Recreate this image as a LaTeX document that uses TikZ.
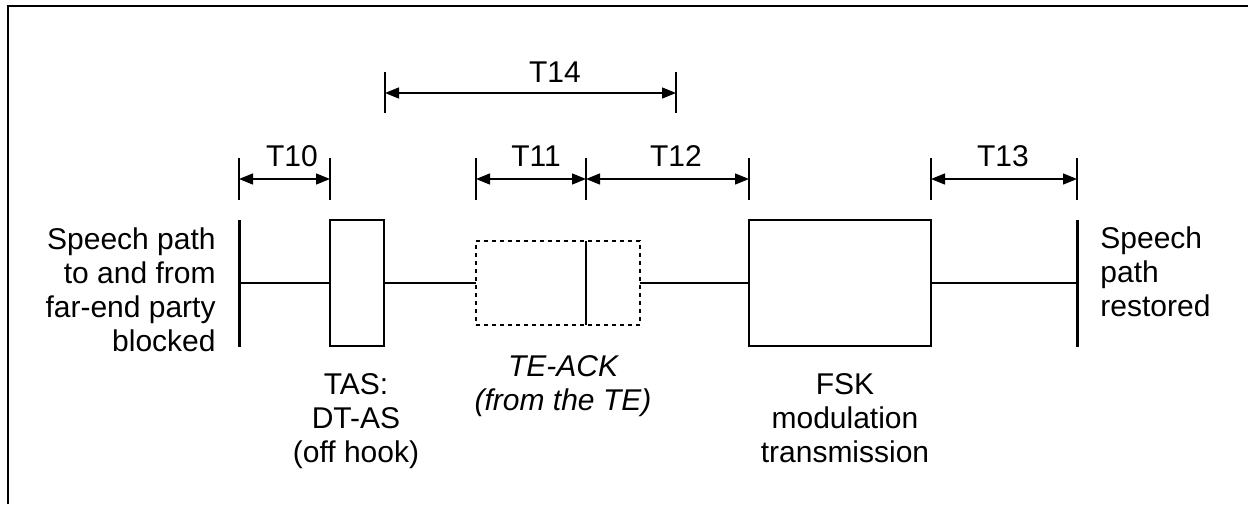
\documentclass[tikz,border=0pt]{standalone}
\usepackage{fontspec}
\setmainfont{Liberation Sans}
\usetikzlibrary{arrows.meta}
\def\sz{\fontsize{15}{17}\selectfont}
\begin{document}
\begin{tikzpicture}[x=0.5pt, y=-0.5pt, >={Triangle[length=7pt,width=5.5pt]}, font=\sz,
  box/.style={draw, line width=1pt, inner sep=0pt, outer sep=0pt},
  bar/.style={line width=1.5pt},
  tick/.style={line width=0.7pt},
  dim/.style={<->, line width=0.7pt},
  lbl/.style={inner sep=0pt, align=center}]
\useasboundingbox (0,0) rectangle (1248,504);
\draw[line width=1pt] (8,504) -- (8,6) -- (1248,6);
% boxes and bars
\coordinate (lbar) at (239,283);
\coordinate (rbar) at (1077,283);
\coordinate (split) at (586,283);
\node[box, minimum width=27pt, minimum height=63pt] (tas) at (357,283) {};
\node[box, dash pattern=on 2pt off 2pt, minimum width=82pt, minimum height=42pt] (ack) at (558,283) {};
\node[box, minimum width=91pt, minimum height=63pt] (fsk) at (840,283) {};
\draw[bar] (lbar) ++(0,-63) -- ++(0,127) (rbar) ++(0,-63) -- ++(0,127);
\draw[line width=0.8pt] (split |- ack.north) -- (split |- ack.south);
\draw[line width=1pt] (lbar) -- (tas) -- (ack) -- (fsk) -- (rbar);
% timing intervals
\foreach \xa/\xb/\name/\lx in {239/330/T10/292, 476/586/T11/536, 586/749/T12/676, 931/1077/T13/1003} {
  \draw[tick] (\xa,158) -- (\xa,200) (\xb,158) -- (\xb,200);
  \coordinate (\name l) at (\xa,179);
  \coordinate (\name r) at (\xb,179);
  \draw[dim] (\name l) -- (\name r);
  \node[lbl] (\name) at (\lx,156) {\name};
}
\draw[tick] (385,72) -- (385,113) (676,72) -- (676,113);
\coordinate (T14l) at (385,93);
\coordinate (T14r) at (676,93);
\draw[dim] (T14l) -- (T14r);
\node[lbl] (T14) at (555,72) {T14};
% texts
\node[lbl, align=right, anchor=east] (blocked) at (216,290) {Speech path\\to and from\\far-end party\\blocked};
\node[lbl, align=left, anchor=west] (restored) at (1100,272) {Speech\\path\\restored};
\node[lbl] (tastext) at (356,421) {TAS:\\DT-AS\\(off hook)};
\node[lbl, font={\sz\itshape}] (acktext) at (563,386) {TE-ACK\\(from the TE)};
\node[lbl] (fsktext) at (845,418) {FSK\\modulation\\transmission};
\end{tikzpicture}
\end{document}
